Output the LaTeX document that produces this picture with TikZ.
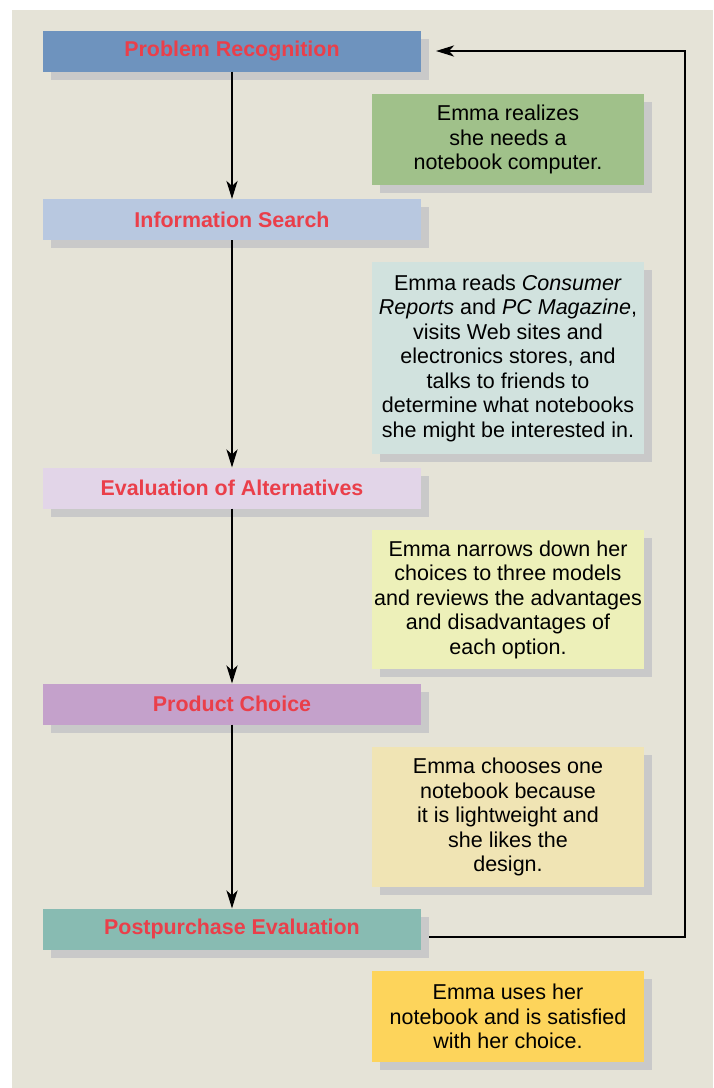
\documentclass[tikz,border=0pt]{standalone}
\usepackage{fontspec}
\setmainfont{Liberation Sans}
\usetikzlibrary{arrows.meta,shadows}
\definecolor{bgcol}{HTML}{E5E3D7}
\definecolor{shadowgray}{HTML}{C9C9C9}
\definecolor{titlered}{HTML}{EA3F4A}
\definecolor{recogblue}{HTML}{6E93BE}
\definecolor{searchblue}{HTML}{B8C8E0}
\definecolor{evallilac}{HTML}{E2D5E8}
\definecolor{choicepurple}{HTML}{C4A1CB}
\definecolor{postteal}{HTML}{88BBB2}
\definecolor{notegreen}{HTML}{A0C18A}
\definecolor{notemint}{HTML}{D1E2DE}
\definecolor{notelime}{HTML}{EDF0B9}
\definecolor{notesand}{HTML}{F0E4B4}
\definecolor{notegold}{HTML}{FDD45B}
\begin{document}
\begin{tikzpicture}[x=1pt,y=-1pt,inner sep=0pt,outer sep=0pt,
stage/.style={rectangle,fill=#1,minimum width=378pt,minimum height=41pt,text=titlered,
  font=\fontsize{21.4}{24}\selectfont\bfseries,
  drop shadow={shadow xshift=8pt,shadow yshift=-8pt,fill=shadowgray,opacity=1}},
note/.style={rectangle,fill=#1,minimum width=272pt,align=center,
  font=\fontsize{21.5}{24.5}\selectfont,
  drop shadow={shadow xshift=8pt,shadow yshift=-8pt,fill=shadowgray,opacity=1}},
flow/.style={-{Stealth[length=18pt,width=11pt,inset=5pt]},line width=2.6pt}]
\useasboundingbox (0,0) rectangle (713,1088);
\fill[bgcol] (12,10) rectangle (713,1088);
\draw (232,51) node[stage=recogblue] (recog) {Problem Recognition};
\draw (232,219.5) node[stage=searchblue] (search) {Information Search};
\draw (232,488) node[stage=evallilac] (evalalt) {Evaluation of Alternatives};
\draw (232,704) node[stage=choicepurple] (choice) {Product Choice};
\draw (232,929) node[stage=postteal] (post) {Postpurchase Evaluation};
\draw (508,139.5) node[note=notegreen,minimum height=91pt] (n1) {Emma realizes\\she needs a\\notebook computer.};
\draw (508,358) node[note=notemint,minimum height=192pt] (n2) {Emma reads \emph{Consumer}\\\emph{Reports} and \emph{PC Magazine},\\visits Web sites and\\electronics stores, and\\talks to friends to\\determine what notebooks\\she might be interested in.};
\draw (508,599.5) node[note=notelime,minimum height=139pt] (n3) {Emma narrows down her\\choices to three models\\and reviews the advantages\\and disadvantages of\\each option.};
\draw (508,817) node[note=notesand,minimum height=140pt] (n4) {Emma chooses one\\notebook because\\it is lightweight and\\she likes the\\design.};
\draw (508,1016.5) node[note=notegold,minimum height=91pt] (n5) {Emma uses her\\notebook and is satisfied\\with her choice.};
\draw[flow] (recog) -- (search);
\draw[flow] (search) -- (evalalt);
\draw[flow] (evalalt) -- (choice);
\draw[flow] (choice) -- (post);
\coordinate (back) at (685,937);
\draw[flow] ([xshift=8pt,yshift=-8pt]post.east) -- (back) |- ([xshift=15pt]recog.east);
\end{tikzpicture}
\end{document}
